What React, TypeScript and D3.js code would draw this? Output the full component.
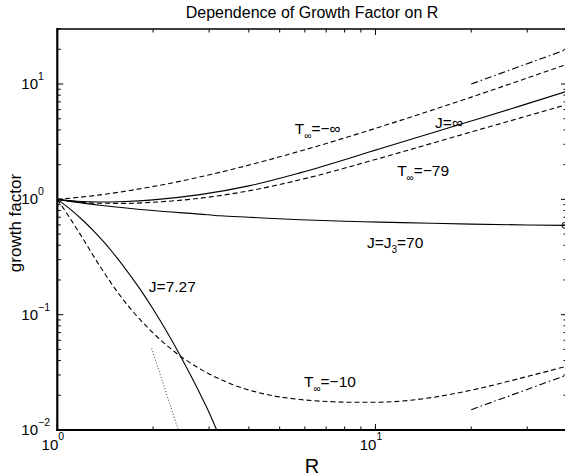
import React from 'react';
import * as d3 from 'd3';

const W = 565;
const H = 476;

// values (R on x, growth factor on y, both log)
const rTinfNegInf = [1, 1.153, 1.362, 2.102, 3.245, 5.788, 11.93, 21.28, 40];
const gTinfNegInf = [1, 1.037, 1.094, 1.325, 1.715, 2.618, 4.815, 8.155, 14.85];

const rJinf = [1, 1.153, 1.362, 1.632, 1.998, 2.808, 4.03, 5.788, 10.33, 18.82, 28.4, 40];
const gJinf = [1, 0.964, 0.949, 0.959, 0.99, 1.098, 1.315, 1.697, 2.742, 4.544, 6.43, 8.645];

const rTinf79 = [1, 1.153, 1.362, 1.632, 1.998, 2.808, 4.03, 5.788, 10.33, 18.82, 28.4, 40];
const gTinf79 = [1, 0.95, 0.925, 0.923, 0.944, 1.022, 1.19, 1.477, 2.274, 3.661, 5.06, 6.64];

const rJ3 = [1, 1.1, 1.36, 2, 2.8, 3.25, 4, 5.8, 8, 10.3, 15, 20, 30, 40];
const gJ3 = [1, 0.96, 0.89, 0.8, 0.745, 0.72, 0.7, 0.665, 0.645, 0.635, 0.62, 0.61, 0.6, 0.595];

const rJ727 = [1, 1.1, 1.2, 1.3, 1.4, 1.5, 1.6, 1.8, 2.0, 2.2, 2.4, 2.6, 2.8, 3.0, 3.17];
const gJ727 = [1, 0.819, 0.662, 0.533, 0.427, 0.341, 0.272, 0.174, 0.112, 0.0725, 0.0475, 0.0313, 0.021, 0.0142, 0.01];

const rTinf10 = [1, 1.08, 1.178, 1.362, 1.574, 1.956, 2.394, 2.808, 3.488, 4.558, 5.788, 7.348, 8.93, 10.33, 15.05, 19.8, 30.6, 40];
const gTinf10 = [1, 0.731, 0.502, 0.2624, 0.147, 0.0738, 0.0453, 0.0339, 0.0253, 0.0203, 0.0184, 0.01757, 0.01738, 0.01742, 0.01913, 0.02202, 0.0295, 0.0358];

const rDotted = [1.98, 2.4];
const gDotted = [0.0511, 0.01];

const rDashDotHi = [20, 40];
const gDashDotHi = [10, 20];
const rDashDotLo = [20, 40];
const gDashDotLo = [0.015, 0.03];

const xTickExp = [0, 1];
const yTickExp = [-2, -1, 0, 1];

const font = '"Liberation Sans", Arial, Helvetica, sans-serif';
const INF = '\u221e';
const MINUS = '\u2212';

const x = d3.scaleLog().domain([1, 40]).range([57.3, 567]);
const y = d3.scaleLog().domain([0.01, 30]).range([430, 29]);

const line = d3
  .line<[number, number]>()
  .x(d => x(d[0]))
  .y(d => y(d[1]))
  .curve(d3.curveMonotoneX);

const path = (r: number[], g: number[]) => line(r.map((v, i) => [v, g[i]]) as [number, number][]) || '';

const isMajor = (v: number) => Math.abs(Math.log10(v) - Math.round(Math.log10(v))) < 1e-6;
const expText = (n: number) => (n < 0 ? MINUS + Math.abs(n) : String(n));

export default function App() {
  const x0 = x.range()[0];
  const x1 = x.range()[1];
  const yTop = y.range()[1];
  const yBot = y.range()[0];

  const xTicks = x.ticks();
  const yTicks = y.ticks();

  // subscript then back to the baseline
  const sub = (s: string, rest: string) => (
    <>
      <tspan fontSize={10} dy={5}>{s}</tspan>
      <tspan dy={-5}>{rest}</tspan>
    </>
  );

  return (
    <div style={{ position: 'absolute', left: 0, top: 0 }}>
      <svg width={W} height={H} style={{ display: 'block', background: '#fff' }} fontFamily={font}>
        <text x={312} y={18} textAnchor="middle" fontSize={16}>
          Dependence of Growth Factor on R
        </text>

        {/* curves */}
        <g fill="none" stroke="#000" strokeWidth={1.1}>
          <path d={path(rTinfNegInf, gTinfNegInf)} strokeDasharray="5,3" />
          <path d={path(rJinf, gJinf)} />
          <path d={path(rTinf79, gTinf79)} strokeDasharray="5,3" />
          <path d={path(rJ3, gJ3)} />
          <path d={path(rJ727, gJ727)} />
          <path d={path(rTinf10, gTinf10)} strokeDasharray="5,3" />
          <path d={path(rDotted, gDotted)} strokeDasharray="1,2" stroke="#555" />
          <path d={path(rDashDotHi, gDashDotHi)} strokeDasharray="7,3,1.5,3" />
          <path d={path(rDashDotLo, gDashDotLo)} strokeDasharray="7,3,1.5,3" />
        </g>
        <circle cx={x(rJ3[rJ3.length - 1]) - 2} cy={y(gJ3[gJ3.length - 1])} r={3} fill="none" stroke="#000" />

        {/* box and ticks */}
        <g stroke="#000">
          <line x1={x0} x2={x1} y1={yTop} y2={yTop} strokeWidth={1.5} />
          <line x1={x1} x2={x1} y1={yTop} y2={yBot} strokeWidth={1.5} />
          <line x1={x0} x2={x0} y1={yTop - 1} y2={yBot + 1} strokeWidth={2.2} />
          <line x1={x0 - 1} x2={x1} y1={yBot} y2={yBot} strokeWidth={2.2} />
          {xTicks.map((t, i) => {
            const len = isMajor(t) ? 6 : 3.5;
            return (
              <g key={'xt' + i}>
                <line x1={x(t)} x2={x(t)} y1={yBot} y2={yBot - len} strokeWidth={1} />
                <line x1={x(t)} x2={x(t)} y1={yTop} y2={yTop + len} strokeWidth={1} />
              </g>
            );
          })}
          {yTicks.map((t, i) => {
            const len = isMajor(t) ? 6 : 3.5;
            return (
              <g key={'yt' + i}>
                <line x1={x0} x2={x0 + len} y1={y(t)} y2={y(t)} strokeWidth={1} />
                <line x1={x1} x2={x1 - len} y1={y(t)} y2={y(t)} strokeWidth={1} />
              </g>
            );
          })}
        </g>

        {/* tick labels */}
        {xTickExp.map(e => (
          <g key={'xl' + e}>
            <text x={x(Math.pow(10, e)) + 1} y={450} textAnchor="end" fontSize={15}>10</text>
            <text x={x(Math.pow(10, e)) + 1} y={440} fontSize={10.5}>{expText(e)}</text>
          </g>
        ))}
        {yTickExp.map(e => (
          <g key={'yl' + e}>
            <text x={38} y={y(Math.pow(10, e)) + 5} textAnchor="end" fontSize={15}>10</text>
            <text x={38} y={y(Math.pow(10, e)) - 4} fontSize={10.5}>{expText(e)}</text>
          </g>
        ))}

        {/* axis labels */}
        <text x={312} y={473} textAnchor="middle" fontSize={20}>R</text>
        <text transform="translate(21,223) rotate(-90)" textAnchor="middle" fontSize={17}>growth factor</text>

        {/* curve annotations */}
        <g fontSize={15.5}>
          <text x={x(5.58)} y={y(3.69)}>T{sub(INF, '=' + MINUS + INF)}</text>
          <text x={x(15.4)} y={y(4.16)}>J={INF}</text>
          <text x={x(11.7)} y={y(1.58)}>T{sub(INF, '=' + MINUS + '79')}</text>
          <text x={x(9.4)} y={y(0.379)}>J=J{sub('3', '=70')}</text>
          <text x={x(1.94)} y={y(0.157)}>J=7.27</text>
          <text x={x(5.96)} y={y(0.0234)}>T{sub(INF, '=' + MINUS + '10')}</text>
        </g>
      </svg>
    </div>
  );
}
